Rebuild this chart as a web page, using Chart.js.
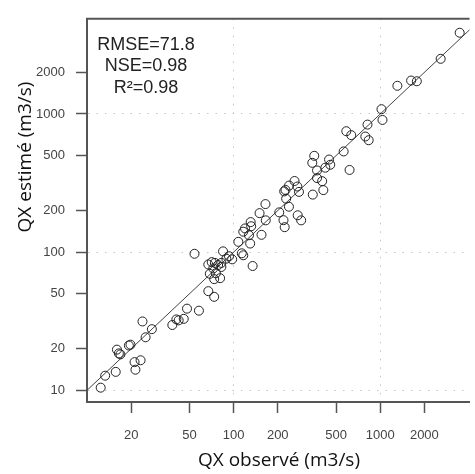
<!DOCTYPE html>
<html>
<head>
<meta charset="utf-8">
<script src="https://cdn.jsdelivr.net/npm/chart.js@4.4.1/dist/chart.umd.min.js"></script>
<style>
  html, body { margin: 0; padding: 0; background: #fff; overflow: hidden; }
</style>
</head>
<body>
<canvas id="qxChart" width="475" height="474"></canvas>
<script>
// observed vs estimated flows (m3/s)
const observed = [12.4, 13.3, 15.7, 21.4, 21.1, 23.2, 16.0, 16.5, 16.9, 19.3, 19.8, 23.9, 25.1, 27.7, 38.2, 40.7, 42.2, 45.7, 48.1, 58.0, 54.1, 67.2, 73.7,
  67.2, 70.9, 74.5, 78.4, 82.5, 72.6, 82.5, 68.8, 75.7, 73.7, 80.9, 84.7, 93.0, 97.7, 89.2, 113.7, 116.4, 134.8,
  107.7, 129.7, 127.3, 116.4, 119.7, 130.7, 131.8, 155.0, 150.3, 164.9, 165.7, 204.8, 218.9, 223.0, 238.4, 273.6, 288.9, 228.2,
  225.8, 221.3, 239.1, 260.4, 272.0, 279.2, 346.7, 409.3, 401.8, 370.7, 370.7, 422.1, 456.1, 447.7, 354.9, 344.1,
  563.1, 617.8, 587.0, 634.4, 791.4, 834.3, 818.9, 1020, 1036, 1309, 1624, 1777, 2584, 3483];
const estimated = [10.45, 12.76, 13.6, 14.1, 16.0, 16.5, 19.7, 18.5, 18.2, 21.1, 21.4, 31.5, 24.2, 27.7, 29.7, 32.6, 32.1, 32.9, 39.0, 37.7, 97.3, 52.2, 47.5,
  81.4, 84.7, 83.6, 80.7, 83.6, 76.2, 78.1, 69.7, 70.3, 63.8, 64.8, 101.3, 93.4, 88.7, 89.7, 98.1, 94.9, 79.4,
  118.8, 115.4, 132.5, 140.7, 148.5, 165.0, 154.1, 133.5, 191.6, 222.8, 169.9, 194.1, 170.4, 151.6, 213.3, 184.9, 169.9, 243.7,
  282.0, 275.3, 303.4, 327.4, 298.5, 273.0, 260.9, 281.1, 326.4, 343.9, 390.4, 408.6, 428.9, 468.1, 498.0, 443.1,
  535.8, 393.5, 750.3, 702.9, 687.1, 645.9, 837.8, 1083, 905.7, 1600, 1746, 1726, 2508, 3872];

// 1:1 line ends
const oneToOne = [5, 10000];

const xTicks = [20, 50, 100, 200, 500, 1000, 2000];
const yTicks = [10, 20, 50, 100, 200, 500, 1000, 2000];
const gridValues = [10, 100, 1000];

const statsLines = ['RMSE=71.8', 'NSE=0.98', 'R²=0.98'];
const xTitle = 'QX observé (m3/s)';
const yTitle = 'QX estimé (m3/s)';

const axisColor = '#555';
const tickFont = { family: '"Liberation Sans", Arial, sans-serif', size: 13 };

//draws the top frame line, stats box and axis titles
const overlay = {
  id: 'overlay',
  afterDraw(chart) {
    const { ctx, chartArea } = chart;
    ctx.save();
    ctx.strokeStyle = axisColor;
    ctx.lineWidth = 2;
    ctx.beginPath();
    ctx.moveTo(chartArea.left - 1, chartArea.top);
    ctx.lineTo(chartArea.right, chartArea.top);
    ctx.stroke();

    ctx.fillStyle = '#222';
    ctx.textAlign = 'center';
    ctx.textBaseline = 'middle';
    ctx.font = '18px "Liberation Sans", Arial, sans-serif';
    statsLines.forEach((t, i) => ctx.fillText(t, chartArea.left + 59, 45 + i * 21.5));

    ctx.fillStyle = '#111';
    ctx.font = '19px "Open Sans", sans-serif';
    ctx.fillText(xTitle, 279, 461);
    ctx.translate(26, 157);
    ctx.rotate(-Math.PI / 2);
    ctx.fillText(yTitle, 0, 0);
    ctx.restore();
  }
};

function gridColor(c) {
  return c.tick && gridValues.includes(c.tick.value) ? '#c4c4c4' : 'rgba(0,0,0,0)';
}

const ctx = document.getElementById('qxChart').getContext('2d');
const qxChart = new Chart(ctx, {
  type: 'scatter',
  data: {
    datasets: [{
      data: observed.map((x, i) => ({ x: x, y: estimated[i] })),
      pointRadius: 4.5,
      pointHoverRadius: 4.5,
      pointBorderWidth: 1,
      pointBorderColor: '#222',
      pointBackgroundColor: 'rgba(0,0,0,0)',
      showLine: false
    }, {
      data: oneToOne.map(v => ({ x: v, y: v })),
      showLine: true,
      borderColor: '#444',
      borderWidth: 1,
      pointRadius: 0
    }]
  },
  options: {
    responsive: false,
    animation: false,
    layout: { padding: { top: 9, left: 0, right: 0, bottom: 0 } },
    plugins: {
      legend: { display: false },
      tooltip: { enabled: false }
    },
    scales: {
      x: {
        type: 'logarithmic',
        min: 10,
        max: 4064,
        afterBuildTicks: s => { s.ticks = xTicks.map(v => ({ value: v })); },
        afterFit: s => { s.height = 72; },
        ticks: {
          callback: v => String(v),
          font: tickFont,
          color: '#444',
          padding: 15,
          maxRotation: 0,
          autoSkip: false
        },
        grid: {
          color: gridColor,
          lineWidth: 1,
          tickColor: axisColor,
          tickLength: 11,
          tickWidth: 1.5
        },
        border: { display: true, color: axisColor, width: 2, dash: [1.5, 7] }
      },
      y: {
        type: 'logarithmic',
        min: 8.23,
        max: 4886,
        afterBuildTicks: s => { s.ticks = yTicks.map(v => ({ value: v })); },
        afterFit: s => { s.width = 87; },
        ticks: {
          callback: v => String(v),
          font: tickFont,
          color: '#444',
          padding: 11,
          autoSkip: false
        },
        grid: {
          color: gridColor,
          lineWidth: 1,
          tickColor: axisColor,
          tickLength: 11,
          tickWidth: 1.5
        },
        border: { display: true, color: axisColor, width: 2, dash: [1.5, 7] }
      }
    }
  },
  plugins: [overlay]
});
</script>
</body>
</html>
